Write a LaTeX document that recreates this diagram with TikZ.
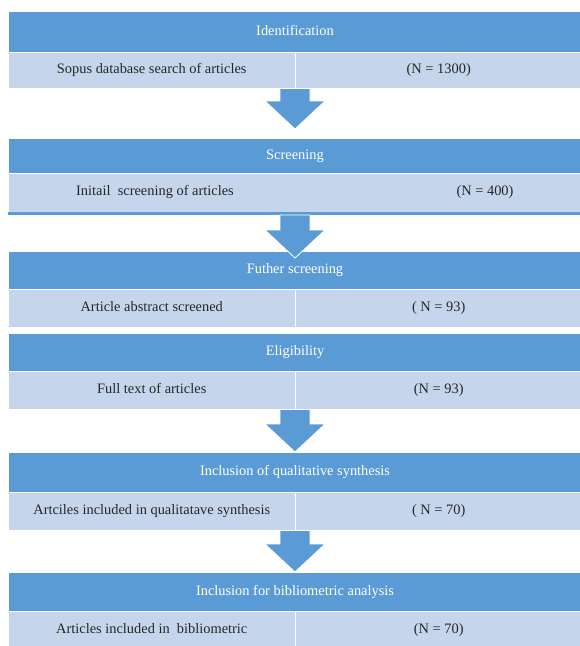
\documentclass[tikz,border=0pt]{standalone}
\usepackage{fontspec}
\setmainfont{Liberation Serif}
\usetikzlibrary{positioning, calc}
\definecolor{HeadBlue}{HTML}{5B9BD5}
\definecolor{RowBlue}{HTML}{C5D6EC}
\definecolor{InkGray}{HTML}{262626}

\newcommand{\flowfont}{\fontsize{14.4}{17}\selectfont}
% block arrow from a start point straight down to a tip
\newcommand{\flowarrow}[2]{%
  \filldraw[blockarrow] ($(#1)+(-15,0)$) -- ($(#2)+(-15,28)$) -- ($(#2)+(-30,28)$) -- (#2)
    -- ($(#2)+(30,28)$) -- ($(#2)+(15,28)$) -- ($(#1)+(15,0)$) -- cycle;}

\tikzset{
  stagehead/.style={fill=HeadBlue, draw=white, line width=0.5pt, text=white, anchor=north,
    minimum width=574pt, inner sep=0pt, text height=10pt, text depth=3.5pt, font=\flowfont},
  stagecell/.style={fill=RowBlue, draw=white, line width=0.5pt, text=InkGray, anchor=north west,
    minimum width=287pt, inner sep=0pt, text height=10pt, text depth=3.5pt, font=\flowfont},
  rowtext/.style={text=InkGray, inner sep=0pt, text height=10pt, text depth=3.5pt, font=\flowfont},
  blockarrow/.style={fill=HeadBlue, draw=white, line width=0.8pt},
}

\begin{document}
\begin{tikzpicture}[x=1pt, y=1pt]
  \useasboundingbox (0,0) rectangle (579,-646);

  % Identification
  \node[stagehead, minimum height=41pt] (idHead) at (295,-11) {Identification};
  \node[stagecell, minimum height=36pt] (idL) at (8,-52) {Sopus database search of articles};
  \node[stagecell, minimum height=36pt] (idR) at (295,-52) {(N = 1300)};

  % Screening
  \node[stagehead, minimum height=35pt] (scrHead) at (295,-138) {Screening};
  \node[stagecell, minimum width=574pt, minimum height=39pt] (scrRow) at (8,-173) {};
  \node[rowtext, anchor=west] (scrL) at (76,-192.5) {Initail\ \ screening of articles};
  \node[rowtext] (scrR) at (485,-192.5) {(N = 400)};
  \node[fill=HeadBlue, inner sep=0pt, minimum width=574pt, minimum height=2.5pt, anchor=north] (scrLine) at (295,-212) {};

  % Futher screening
  \node[stagehead, minimum height=38pt] (furHead) at (295,-251) {Futher screening};
  \node[stagecell, minimum height=38pt] (furL) at (8,-289) {Article abstract screened};
  \node[stagecell, minimum height=38pt] (furR) at (295,-289) {( N = 93)};

  % Eligibility
  \node[stagehead, minimum height=38pt] (eliHead) at (295,-333) {Eligibility};
  \node[stagecell, minimum height=38pt] (eliL) at (8,-371) {Full text of articles};
  \node[stagecell, minimum height=38pt] (eliR) at (295,-371) {(N = 93)};

  % Inclusion of qualitative synthesis
  \node[stagehead, minimum height=40pt] (qualHead) at (295,-452) {Inclusion of qualitative synthesis};
  \node[stagecell, minimum height=38pt] (qualL) at (8,-492) {Artciles included in qualitatave synthesis};
  \node[stagecell, minimum height=38pt] (qualR) at (295,-492) {( N = 70)};

  % Inclusion for bibliometric analysis
  \node[stagehead, minimum height=39pt] (bibHead) at (295,-572) {Inclusion for bibliometric analysis};
  \node[stagecell, minimum height=37pt] (bibL) at (8,-611) {Articles included in\ \ bibliometric};
  \node[stagecell, minimum height=37pt] (bibR) at (295,-611) {(N = 70)};

  % Arrows between stages
  \coordinate (tipA) at ($(scrHead.north)+(0,9)$);
  \coordinate (tipB) at ($(furHead.north)+(0,-7)$);
  \flowarrow{idR.south west}{tipA}
  \flowarrow{scrLine.south}{tipB}
  \flowarrow{eliR.south west}{qualHead.north}
  \flowarrow{qualR.south west}{bibHead.north}
\end{tikzpicture}
\end{document}
